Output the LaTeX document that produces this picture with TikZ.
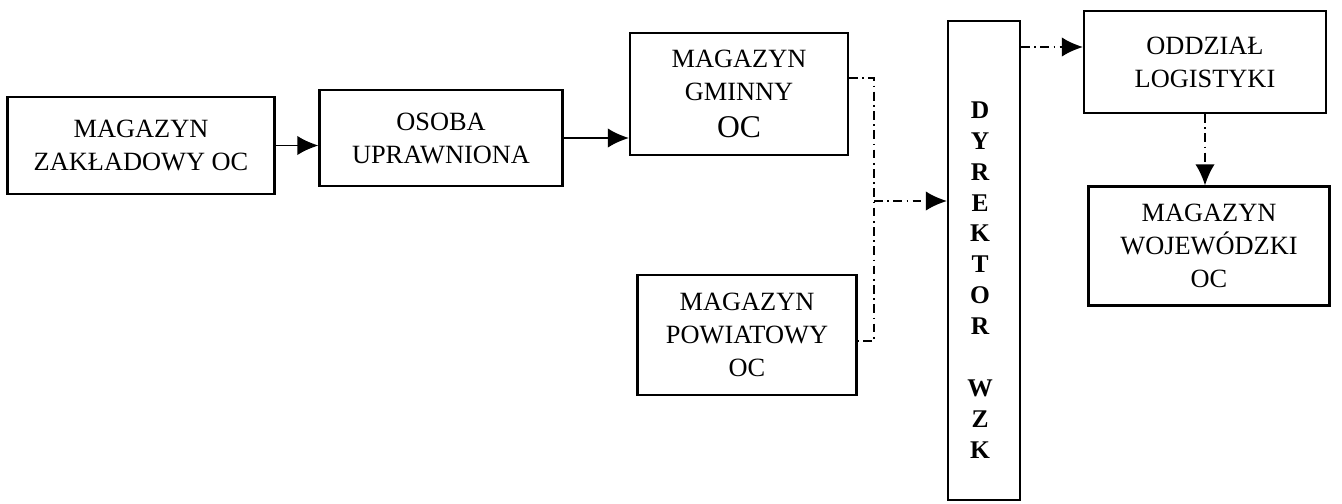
\documentclass[tikz,border=0pt]{standalone}
\usepackage{fontspec}
\setmainfont{Liberation Serif}
\usetikzlibrary{arrows.meta}
\usetikzlibrary{math}

\begin{document}
\begin{tikzpicture}[scale=1,
box/.style={draw, line width=1.2pt, align=center, inner sep=0pt, font=\fontsize{15}{18.8}\selectfont},
flow/.style={line width=1.1pt, -{Latex[length=12pt,width=11pt]}},
dashdot/.style={line width=1pt, dash pattern=on 5pt off 2.5pt on 1pt off 2.5pt},
]
\tikzmath{
\xb=17.48;
\ytop=8.50;
\ybot=3.24;
\ymid=6.04;
}
\useasboundingbox (0,0) rectangle (26.84,10.06);

%%%%%%%%%% left chain
\node[box, minimum width=5.34cm, minimum height=1.94cm] (zaklad) at (2.82,7.15) {MAGAZYN\\ZAKŁADOWY OC};
\node[box, minimum width=4.86cm, minimum height=1.92cm] (osoba) at (8.82,7.30) {OSOBA\\UPRAWNIONA};
\node[box, minimum width=4.36cm, minimum height=2.44cm] (gminny) at (14.78,8.18) {MAGAZYN\\GMINNY\\[2.5pt]{\fontsize{18}{22}\selectfont OC}};
\node[box, minimum width=4.38cm, minimum height=2.40cm] (powiat) at (14.94,3.36) {MAGAZYN\\POWIATOWY\\OC};

\draw[flow] (zaklad.east) -- (zaklad.east -| osoba.west);
\draw[flow] (osoba.east) -- (osoba.east -| gminny.west);

%%%%%%%%%% director
\node[box, minimum width=1.44cm, minimum height=9.58cm] (dyrektor) at (19.68,4.85) {};
\node[font=\fontsize{14.5}{17.6}\selectfont\bfseries, align=center, inner sep=0pt] (dyrlabel) at (19.60,4.46) {D\\Y\\R\\E\\K\\T\\O\\R\\[17.6pt]W\\Z\\K};

\coordinate (brtop) at (\xb,\ytop);
\coordinate (brbot) at (\xb,\ybot);
\coordinate (brmid) at (\xb,\ymid);
\draw[dashdot] (gminny.east |- brtop) -- (brtop) -- (brbot) -- (powiat.east |- brbot);
\draw[dashdot, flow] (brmid) -- (brmid -| dyrektor.west);

%%%%%%%%%% right side
\node[box, minimum width=4.84cm, minimum height=2.04cm] (oddzial) at (24.10,8.82) {ODDZIAŁ\\LOGISTYKI};
\node[box, minimum width=4.82cm, minimum height=2.38cm] (wojew) at (24.18,5.14) {MAGAZYN\\WOJEWÓDZKI\\OC};

\coordinate (dyrout) at (21,9.12);
\draw[dashdot, flow] (dyrektor.east |- dyrout) -- (oddzial.west |- dyrout);
\draw[dashdot, flow] (oddzial.south) -- (oddzial.south |- wojew.north);

\end{tikzpicture}
\end{document}
